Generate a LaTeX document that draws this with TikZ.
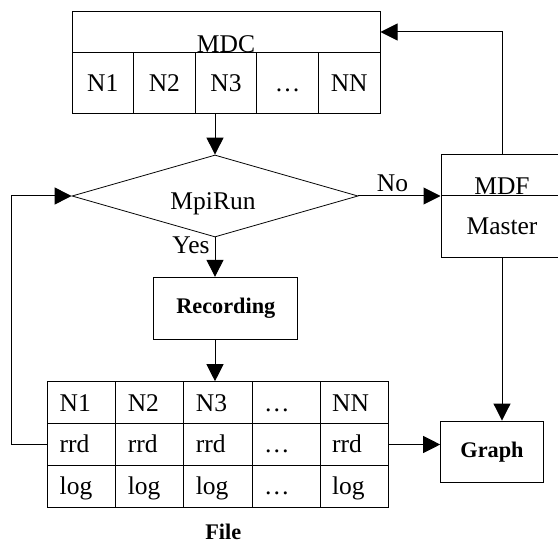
\documentclass[tikz,border=0pt]{standalone}
\usepackage{fontspec}
\setmainfont{Liberation Serif}
\usetikzlibrary{arrows.meta,shapes.geometric}
\newcommand\figreg{\fontsize{25.5}{30}\selectfont}
\newcommand\figbold{\fontsize{22.3}{27}\selectfont\bfseries}
\tikzset{
  box/.style={draw, line width=1pt, rectangle, inner sep=0pt, font=\figreg},
  mcell/.style={box, minimum width=61.6pt, minimum height=61pt,
    text height=16.8pt, text depth=0pt},
  tcell/.style={box, minimum height=41.87pt, text width=44.1pt,
    inner xsep=12pt, align=left, text height=16.8pt, text depth=0pt},
  boldbox/.style={box, font=\figbold},
  txt/.style={inner sep=0pt, anchor=base, font=\figreg},
  arr/.style={line width=1pt, -{Triangle[length=17pt,width=17pt]}},
}
\begin{document}
\begin{tikzpicture}[x=1pt,y=-1pt]
\useasboundingbox (0,0) rectangle (558,543);
\clip (0,0) rectangle (558,543);

% MDC block: title row and node cells
\node[box, minimum width=308pt, minimum height=40.6pt,
  label={[txt, yshift=0.6pt]south:MDC}] (title) at (226,32) {};
\foreach \t [count=\i] in {N1,N2,N3,…,NN}
  \node[mcell] (m\i) at ({41.2+61.6*\i},82.8) {\t};

% decision
\node[draw, line width=0.8pt, diamond, inner sep=0pt,
  minimum width=286pt, minimum height=82pt] (run) at (215,196) {};
\node[txt] (runtext) at (213,210) {MpiRun};

% MDF / Master block
\node[box, minimum width=122pt, minimum height=40.7pt,
  label={[txt, yshift=2.2pt]south:MDF}] (mdft) at (502,175.35) {};
\node[box, minimum width=122pt, minimum height=61.6pt] (mdfb) at (502,226.5) {Master};

% recording step
\node[boldbox, minimum width=143.7pt, minimum height=61.7pt] (rec) at (225.8,308.2) {Recording};

% file table
\foreach \row [count=\r] in {{N1,N2,N3,…,NN},{rrd,rrd,rrd,…,rrd},{log,log,log,…,log}}
  \foreach \t [count=\c] in \row
    \node[tcell] (t\r\c) at ({13.65+68.1*\c},{360.765+41.87*\r}) {\t};
\node[txt, font=\figbold] (file) at (223.3,539.3) {File};

% graph output
\node[boldbox, minimum width=102.6pt, minimum height=61.3pt] (graph) at (492,451.7) {Graph};

% connectors
\coordinate (loopx) at (11.7,0);
\draw[arr] (run.north |- m3.south) -- (run.north);
\draw[arr] (mdft.north) |- (title.east);
\draw[arr] (run.east) -- node[pos=0.415, txt, yshift=4pt] (no) {No} (run.east -| mdft.west);
\draw[arr] (run.south) -- node[pos=0.4, txt, anchor=base east, xshift=-5pt] (yes) {Yes} (run.south |- rec.north);
\draw[arr] (run.south |- rec.south) -- (run.south |- t13.north);
\draw[arr] (t21.west) -- (t21.west -| loopx) |- (run.west);
\draw[arr] (t25.east) -- (t25.east -| graph.west);
\draw[arr] (mdfb.south) -- (mdfb.south |- graph.north);
\end{tikzpicture}
\end{document}
